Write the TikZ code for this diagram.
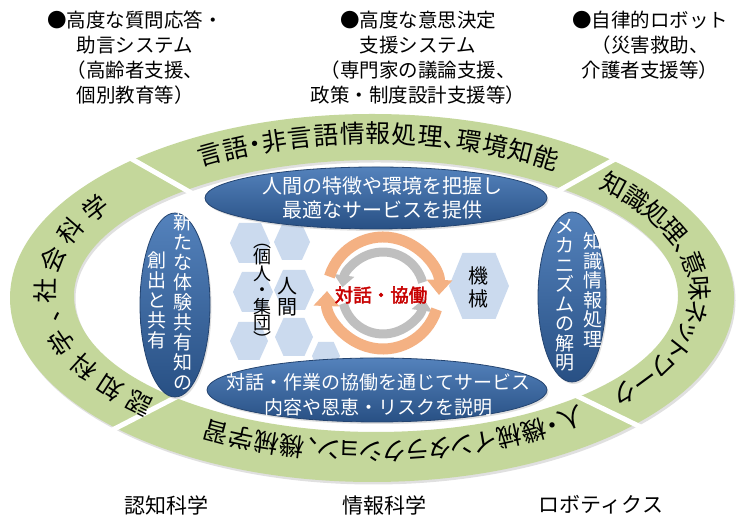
\documentclass[tikz,border=0pt]{standalone}
\usepackage{fontspec}
\newfontfamily\cjk{Noto Sans CJK JP}[AutoFakeBold=2.5]
\newfontfamily\cjkp{Noto Sans CJK JP}[RawFeature=+palt]
\usetikzlibrary{decorations.text,arrows.meta,shapes.geometric,shadows}
\definecolor{ringgreen}{RGB}{196,215,155}
\definecolor{blueA}{RGB}{84,130,188}
\definecolor{blueB}{RGB}{40,80,132}
\definecolor{blueEdge}{RGB}{36,68,112}
\definecolor{hexblue}{RGB}{203,218,238}
\definecolor{orangeA}{RGB}{244,177,131}
\definecolor{grayA}{RGB}{191,191,191}
\definecolor{redA}{RGB}{200,0,0}
\newcommand\rngfont{\cjkp\fontsize{25pt}{25pt}\selectfont}
\begin{document}
\begin{tikzpicture}[x=1pt,y=1pt,
  blueell/.style={ellipse, draw=blueEdge, line width=0.8pt, top color=blueA, bottom color=blueB, inner sep=0pt,
    drop shadow={opacity=0.25,shadow xshift=1.5pt,shadow yshift=-2pt}},
  bluetxt/.style={text=white, align=center, inner sep=0pt, font=\cjk\fontsize{20pt}{24pt}\selectfont},
  vtxt/.style={text=white, align=center, inner sep=0pt, font=\cjk\fontsize{19pt}{20pt}\selectfont},
  ctxt/.style={text=black, align=center, inner sep=0pt, font=\cjk\fontsize{20pt}{21pt}\selectfont},
  labeltxt/.style={align=center, inner sep=0pt, font=\cjk\fontsize{19.5pt}{25pt}\selectfont},
  foottxt/.style={inner sep=0pt, font=\cjk\fontsize{21pt}{24pt}\selectfont},
  ringtext/.style={decorate, decoration={text along path, text align={fit to path}, raise=-9.5pt, text={|\rngfont|#1}}},
  hexa/.pic={\fill[hexblue] (-20,0) -- (-11,20) -- (11,20) -- (20,0) -- (11,-20) -- (-11,-20) -- cycle;},
  orangearr/.style={orangeA, line width=11pt, -{Triangle[width=25pt,length=15pt]}},
  grayarr/.style={grayA, line width=9pt, -{Triangle[width=20pt,length=12pt]}}
]
\useasboundingbox (0,0) rectangle (736,518);
\fill[white] (0,0) rectangle (736,518);

% ring with soft shadow
\fill[black!12, even odd rule] (373.5,217.5) ellipse[x radius=362pt, y radius=184pt] (377.5,219.5) ellipse[x radius=302pt, y radius=136pt];
\fill[ringgreen, even odd rule] (372,220) ellipse[x radius=362pt, y radius=184pt] (376,222) ellipse[x radius=302pt, y radius=136pt];

% gaps between ring segments
\coordinate (rc) at (372,222);
\foreach \ang in {150.3,29.4,207.3,-26}{
  \draw[white, line width=5pt] (rc) ++(\ang:200pt) -- ++(\ang:250pt);
}

% ring texts
\coordinate (tc) at (372.5,225.5);
\path[ringtext={言語・非言語情報処理、環境知能}] (tc) ++(122.2:327pt and 159pt) arc[start angle=122.2, end angle=55.5, x radius=327pt, y radius=159pt];
\path[ringtext={知識処理、意味ネットワーク}] (tc) ++(45.2:327pt and 159pt) arc[start angle=45.2, end angle=-41.9, x radius=327pt, y radius=159pt];
\path[ringtext={人・機械インタラクション、機械学習}] (tc) ++(-50:327pt and 159pt) arc[start angle=-50, end angle=-121, x radius=327pt, y radius=159pt];
\path[ringtext={認知科学、社会科学}] (tc) ++(227.2:327pt and 159pt) arc[start angle=227.2, end angle=144.8, x radius=327pt, y radius=159pt];

% hexagons
\foreach \hx/\hy/\hs in {250/275/1, 292/276/0.9, 253/226/1, 294/228/1, 249/177/0.95, 294/181/0.95, 326/162/0.7}
  \pic[scale=\hs] at (\hx,\hy) {hexa};
\pic[xscale=1.5, yscale=1.65] at (479,232) {hexa};

% circular arrows
\coordinate (ac) at (383,225);
\draw[grayarr] (ac) ++(15:41pt) arc[start angle=15, end angle=172, radius=41pt];
\draw[grayarr] (ac) ++(195:41pt) arc[start angle=195, end angle=352, radius=41pt];
\draw[orangearr] (ac) ++(163:56pt) arc[start angle=163, end angle=-2, radius=56pt];
\draw[orangearr] (ac) ++(-17:56pt) arc[start angle=-17, end angle=-182, radius=56pt];
\node[text=redA, inner sep=0pt, font=\cjk\bfseries\fontsize{18.5pt}{20pt}\selectfont] (talk) at (381,223) {対話・協働};

% blue ellipses
\node[blueell, minimum width=342pt, minimum height=62pt] (topell) at (376,320) {};
\node[bluetxt] (toptext) at (382,320) {人間の特徴や環境を把握し\\最適なサービスを提供};
\node[blueell, minimum width=340pt, minimum height=64pt] (botell) at (377,128) {};
\node[bluetxt, font=\cjk\fontsize{19pt}{24.5pt}\selectfont] (bottext) at (378,123) {対話・作業の協働を通じてサービス\\内容や恩恵・リスクを説明};
\node[blueell, minimum width=70pt, minimum height=184pt] (leftell) at (175,213) {};
\node[vtxt] (lcolA) at (183,216) {新\\た\\な\\体\\験\\共\\有\\知\\の};
\node[vtxt] (lcolB) at (157,218) {創\\出\\と\\共\\有};
\node[blueell, minimum width=68pt, minimum height=170pt] (rightell) at (572,221) {};
\node[vtxt, font=\cjk\fontsize{19pt}{19.5pt}\selectfont] (rcolA) at (593,228) {知\\識\\情\\報\\処\\理};
\node[vtxt, font=\cjk\fontsize{19pt}{19.5pt}\selectfont] (rcolB) at (565,223) {メ\\カ\\ニ\\ズ\\ム\\の\\解\\明};

% inner labels
\node[ctxt] (human) at (287,221) {人\\間};
\node[ctxt, font=\cjk\fontsize{18pt}{16.5pt}\selectfont] (group) at (262,223) {︵\\個\\人\\・\\集\\団\\︶};
\node[ctxt, font=\cjk\fontsize{20pt}{23pt}\selectfont] (machine) at (478,231) {機\\械};

% top labels
\node[labeltxt] (labA) at (135,460.5) {●高度な質問応答・\\助言システム\\（高齢者支援、\\個別教育等）};
\node[labeltxt] (labB) at (418,460.5) {●高度な意思決定\\支援システム\\（専門家の議論支援、\\政策・制度設計支援等）};
\node[labeltxt] (labC) at (650,473) {●自律的ロボット\\（災害救助、\\介護者支援等）};

% bottom labels
\node[foottxt] (footA) at (166,13) {認知科学};
\node[foottxt] (footB) at (384,13) {情報科学};
\node[foottxt] (footC) at (601,13) {ロボティクス};
\end{tikzpicture}
\end{document}
